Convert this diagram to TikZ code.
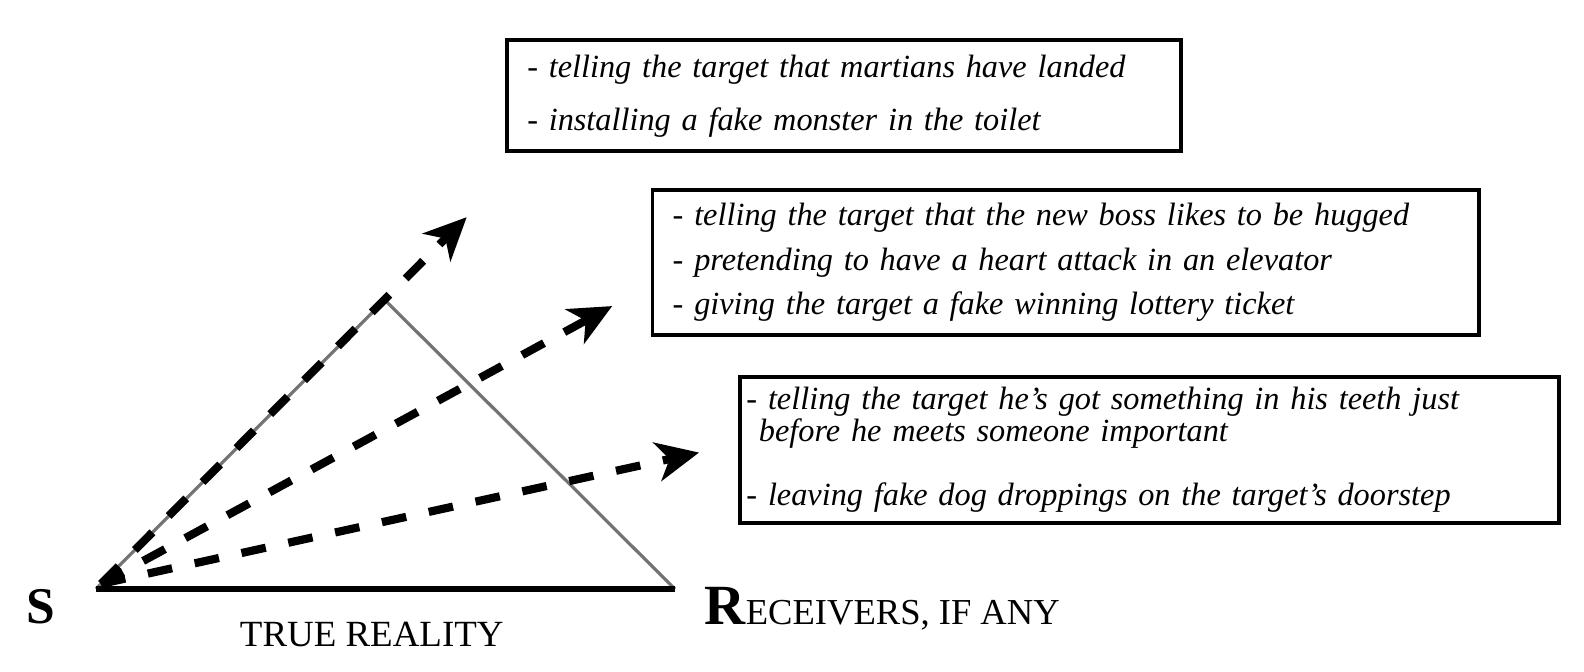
\documentclass[tikz,border=0pt]{standalone}
\usepackage{fontspec}
\setmainfont{Liberation Serif}
\usetikzlibrary{arrows.meta}

\begin{document}
\begin{tikzpicture}[
  ray/.style={line width=2.3pt,dash pattern=on 7pt off 6.5pt,-{Stealth[length=12pt,width=11pt,inset=3.5pt]}},
  side/.style={black!55,line width=0.9pt},
  itembox/.style={draw,line width=1.1pt,anchor=north west,align=left,inner ysep=0pt,font=\fontsize{9.1}{12.4}\selectfont\itshape}]
\useasboundingbox (0,0) rectangle (15.68,6.65);
\coordinate (src) at (0.95,0.82);
\coordinate (apex) at (3.81,3.68);
\coordinate (rcv) at (6.68,0.82);
\coordinate (orig) at (1.00,0.87);
\coordinate (tipA) at (4.62,4.50);
\coordinate (tipB) at (6.06,3.62);
\coordinate (tipC) at (6.92,2.17);
\node[anchor=base,font=\fontsize{14.5}{15}\selectfont\bfseries] (s) at (0.40,0.48) {S};
\node[anchor=base,font=\fontsize{10.4}{12}\selectfont] (truth) at (3.68,0.25) {TRUE REALITY};
\node[anchor=base west,inner sep=0pt] (receivers) at (6.97,0.47) {{\fontsize{16}{16}\selectfont\bfseries R}{\fontsize{10.3}{12}\selectfont ECEIVERS, IF ANY}};
\node[itembox,text width=6.27cm,inner xsep=0.2cm,minimum height=1.10cm] (martians) at (5.00,6.27)
  {- telling the target that martians have landed\\[2.6pt]- installing a fake monster in the toilet};
\node[itembox,text width=7.78cm,inner xsep=0.2cm,minimum height=1.44cm,font=\fontsize{9.1}{12.5}\selectfont\itshape] (boss) at (6.44,4.79)
  {- telling the target that the new boss likes to be hugged\\- pretending to have a heart attack in an elevator\\- giving the target a fake winning lottery ticket};
\node[itembox,text width=7.98cm,inner xsep=0.06cm,minimum height=1.45cm] (teeth) at (7.31,2.94)
  {- telling the target he's got something in his teeth just\\[-3.4pt]\hspace*{3.5pt}before he meets someone important\\[5.5pt]- leaving fake dog droppings on the target's doorstep};
\draw[side] (src) -- (apex) -- (rcv);
\draw[line width=1.6pt] (src) -- (rcv);
\draw[ray] (orig) -- (tipA);
\draw[ray] (orig) -- (tipB);
\draw[ray] (orig) -- (tipC);
\end{tikzpicture}
\end{document}
